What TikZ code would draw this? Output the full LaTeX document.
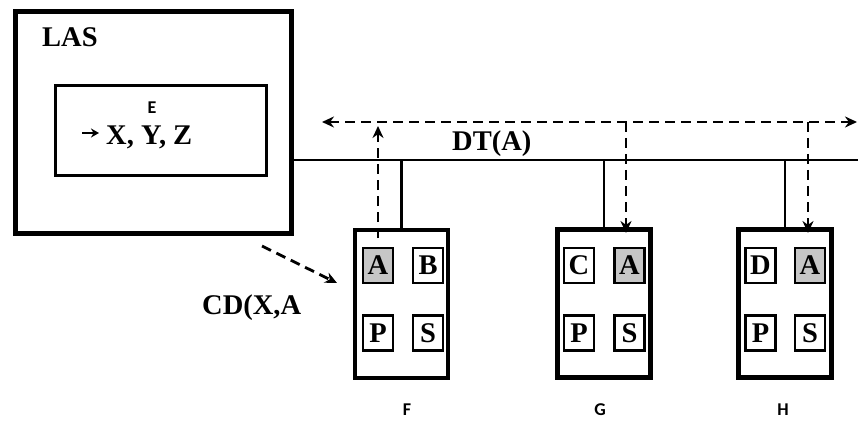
\documentclass[tikz,border=0pt]{standalone}
\usepackage{fontspec}
\setmainfont{Liberation Serif}
\newfontfamily\lblfont{Carlito}
\usetikzlibrary{arrows.meta}
\begin{document}
\begin{tikzpicture}[x=1pt,y=-1pt,
  bigtxt/.style={font=\fontsize{28.5}{30}\selectfont\bfseries, inner sep=0pt},
  smalltxt/.style={font=\lblfont\fontsize{18}{20}\selectfont\bfseries, inner sep=0pt},
  hostbox/.style={draw, line width=4.5pt, minimum width=93pt, minimum height=148pt, inner sep=0pt},
  cellbox/.style={draw, line width=2.8pt, minimum width=30pt, minimum height=35pt, inner sep=0pt,
                  font=\fontsize{28.5}{30}\selectfont\bfseries},
  hot/.style={fill=gray!45},
  dasharrow/.style={dashed, dash pattern=on 10pt off 6pt, line width=2.8pt, -{Stealth[length=12pt,width=11pt]}},
  bus/.style={line width=2.8pt}
]
\useasboundingbox (0,0) rectangle (861,422);

% LAS box
\node[draw, line width=4.5pt, minimum width=276pt, minimum height=222pt, inner sep=0pt] (las) at (153.5,122.5) {};
\node[draw, line width=3pt, minimum width=211pt, minimum height=90pt, inner sep=0pt] (ebox) at (160.5,131) {};
\node[bigtxt, anchor=base west] (lastxt) at (42,47) {LAS};
\node[smalltxt] (etxt) at (152,107.5) {E};
\node[bigtxt, anchor=base west] (xyz) at (106,145) {X, Y, Z};
\coordinate (xyzarrow) at (82,133);
\coordinate (xyzend) at (99,133);
\draw[line width=2.6pt, -{Stealth[length=8pt,width=9pt]}] (xyzarrow) -- (xyzend);

% bus
\coordinate (busL) at (293,160);
\coordinate (busR) at (858,160);
\draw[bus] (busL) -- (busR);

% dashed broadcast line
\coordinate (dtL) at (322,122);
\coordinate (dtR) at (857,122);
\draw[dashed, dash pattern=on 10pt off 6pt, line width=2.8pt,
      {Stealth[length=12pt,width=11pt]}-{Stealth[length=12pt,width=11pt]}] (dtL) -- (dtR);
\node[bigtxt, anchor=base west] (dt) at (452,151) {DT(A)};

% hosts
\node[hostbox] (f) at (401.5,304) {};
\node[hostbox] (g) at (604,303.5) {};
\node[hostbox] (h) at (785,303.5) {};

% cells F
\node[cellbox, hot] (fa) at (378,265.5) {A};
\node[cellbox] (fb) at (428,265.5) {B};
\node[cellbox] (fp) at (378,333) {P};
\node[cellbox] (fs) at (428,333) {S};
% cells G
\node[cellbox] (gc) at (579,265.5) {C};
\node[cellbox, hot] (ga) at (629.5,265.5) {A};
\node[cellbox] (gp) at (579,333) {P};
\node[cellbox] (gs) at (629.5,333) {S};
% cells H
\node[cellbox] (hd) at (760.5,265.5) {D};
\node[cellbox, hot] (ha) at (810,265.5) {A};
\node[cellbox] (hp) at (760.5,333) {P};
\node[cellbox] (hs) at (810,333) {S};

% labels
\node[smalltxt] (flbl) at (407,410) {F};
\node[smalltxt] (glbl) at (600,410) {G};
\node[smalltxt] (hlbl) at (783,410) {H};

% bus drops
\draw[bus] (f.north |- busL) -- (f.north);
\draw[bus] (g.north |- busL) -- (g.north);
\draw[bus] (h.north |- busL) -- (h.north);

% dashed vertical arrows
\coordinate (fbot) at (378,238);
\coordinate (fup) at (378,126);
\draw[dasharrow] (fbot) -- (fup);
\coordinate (gtop) at (626,122);
\coordinate (gbot) at (626,233);
\coordinate (htop) at (808,122);
\coordinate (hbot) at (808,233);
\draw[dasharrow] (gtop) -- (gbot);
\draw[dasharrow] (htop) -- (hbot);

% CD arrow
\coordinate (cdstart) at (262,246);
\coordinate (cdend) at (337,283);
\draw[dasharrow] (cdstart) -- (cdend);
\node[bigtxt, anchor=base west] (cd) at (202,314) {CD(X,A};
\end{tikzpicture}
\end{document}
